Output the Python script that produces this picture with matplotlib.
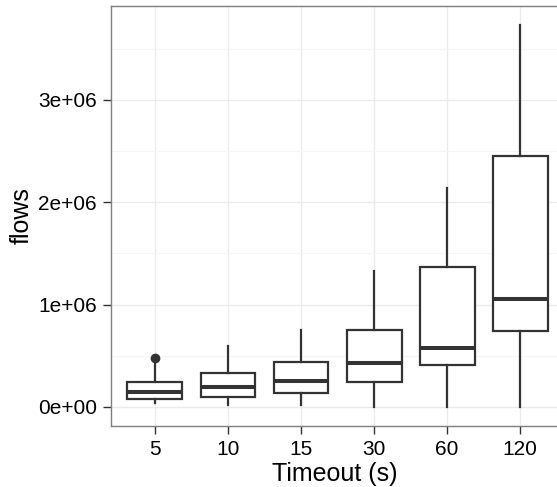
import numpy as np
import matplotlib
matplotlib.use('Agg')
import matplotlib.pyplot as plt
from matplotlib.ticker import FixedLocator

plt.rcParams['font.family'] = ['Liberation Sans', 'DejaVu Sans']

# data
timeouts = ['5', '10', '15', '30', '60', '120']
whislo = [0.04e6, 0.02e6, 0.02e6, 0.003e6, 0.0, 0.0]
q1 = [0.078e6, 0.10e6, 0.137e6, 0.247e6, 0.407e6, 0.745e6]
med = [0.146e6, 0.19e6, 0.254e6, 0.433e6, 0.579e6, 1.055e6]
q3 = [0.24e6, 0.33e6, 0.44e6, 0.752e6, 1.37e6, 2.45e6]
whishi = [0.45e6, 0.60e6, 0.75e6, 1.33e6, 2.135e6, 3.73e6]
outliers = [[0.48e6], [], [], [], [], []]

y_ticks = [0, 1e6, 2e6, 3e6]
y_labels = ['0e+00', '1e+06', '2e+06', '3e+06']

stats = []
for i in range(len(timeouts)):
    stats.append({'whislo': whislo[i], 'q1': q1[i], 'med': med[i], 'q3': q3[i],
                  'whishi': whishi[i], 'fliers': outliers[i], 'label': timeouts[i]})

fig = plt.figure(figsize=(5.57, 4.87), dpi=100)
ax = fig.add_axes([111/557, 1 - 426/487, 448/557, 420/487])

dark = '#333333'
ax.bxp(stats, positions=np.arange(1, len(timeouts) + 1), widths=0.75,
       showcaps=False, patch_artist=True,
       boxprops=dict(facecolor='white', edgecolor=dark, linewidth=1.6),
       whiskerprops=dict(color=dark, linewidth=1.6),
       medianprops=dict(color=dark, linewidth=2.9, solid_capstyle='butt'),
       flierprops=dict(marker='o', markerfacecolor=dark, markeredgecolor=dark,
                       markersize=6, linestyle='none'),
       zorder=3)

# grid
ax.set_axisbelow(True)
ax.yaxis.set_minor_locator(FixedLocator([-0.5e6, 0.5e6, 1.5e6, 2.5e6, 3.5e6]))
ax.grid(True, which='major', color='#EBEBEB', linewidth=1.0)
ax.grid(True, which='minor', axis='y', color='#F5F5F5', linewidth=0.8)

ax.set_xlim(0.4, 6.53)
ax.set_ylim(-0.186e6, 3.915e6)
ax.set_yticks(y_ticks)
ax.set_yticklabels(y_labels)
ax.set_xticks(np.arange(1, len(timeouts) + 1))
ax.set_xticklabels(timeouts)

for s in ax.spines.values():
    s.set_color('#7F7F7F')
    s.set_linewidth(1.0)

ax.tick_params(axis='both', which='major', length=6, width=1.0, color='#333333',
               labelsize=15, labelcolor='black', pad=4)
ax.tick_params(axis='y', which='minor', length=0)

ax.set_xlabel('Timeout (s)', fontsize=18, labelpad=2)
ax.set_ylabel('flows', fontsize=18, labelpad=3)

fig.savefig('out.png', dpi=100)
